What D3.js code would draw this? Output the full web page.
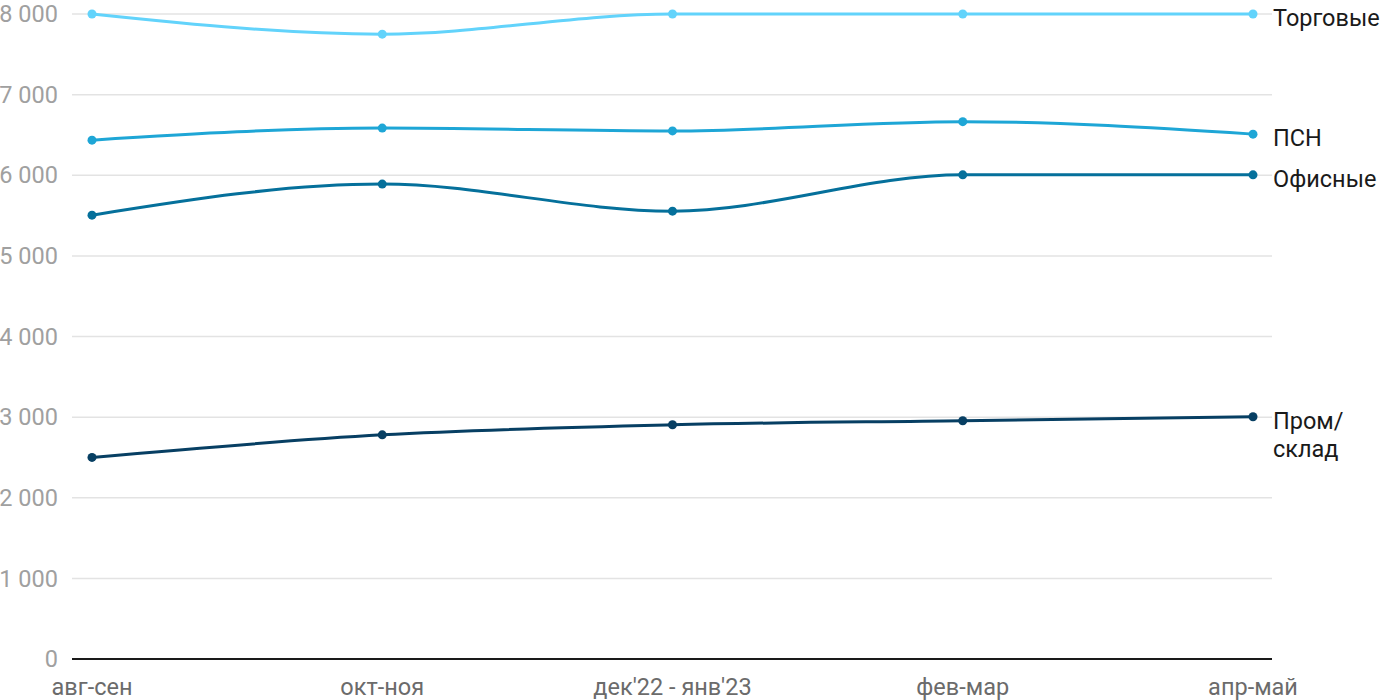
<!DOCTYPE html>
<html><head><meta charset="utf-8">
<script src="https://cdn.jsdelivr.net/npm/d3@7"></script>
<style>
body{margin:0;background:#fff;}
text{font-family:Roboto, "Noto Sans", sans-serif;}
</style></head>
<body><svg id="c" width="1400" height="700"></svg>
<script>
const categories = ["авг-сен","окт-ноя","дек'22 - янв'23","фев-мар","апр-май"];
const seriesNames = ["Торговые","ПСН","Офисные","Пром/склад"];
const labelLines = [["Торговые"],["ПСН"],["Офисные"],["Пром/","склад"]];
const torgovye = [8000, 7750, 8000, 8000, 8000];
const psn = [6435, 6585, 6550, 6665, 6510];
const ofisnye = [5505, 5890, 5555, 6005, 6005];
const prom = [2500, 2780, 2905, 2955, 3005];
const colors = ["#62d3fb","#1ea6d6","#05709b","#073f63"];
const yTicks = [0,1000,2000,3000,4000,5000,6000,7000,8000];

const values = [torgovye, psn, ofisnye, prom];
const svg = d3.select("#c");
const x = d3.scalePoint().domain(categories).range([92,1253]);
const y = d3.scaleLinear().domain([0,8000]).range([659,14]);
const left = 72, right = 1272;
const fs = 23.5;
const fmt = v => d3.format(",")(v).replace(/,/g," ");

// gridlines
svg.append("g").selectAll("line").data(yTicks.filter(t=>t>0)).join("line")
  .attr("x1",left).attr("x2",right).attr("y1",d=>y(d)).attr("y2",d=>y(d))
  .attr("stroke","#e3e3e3").attr("stroke-width",1.5);
// y labels
svg.append("g").selectAll("text").data(yTicks).join("text")
  .attr("x",58).attr("y",d=>y(d)).attr("dy","0.35em").attr("text-anchor","end")
  .attr("font-size",fs).attr("fill","#a0a0a0").text(fmt);
// baseline
svg.append("line").attr("x1",left).attr("x2",right).attr("y1",y(0)).attr("y2",y(0))
  .attr("stroke","#1a1a1a").attr("stroke-width",2);
// x labels
svg.append("g").selectAll("text").data(categories).join("text")
  .attr("x",d=>x(d)).attr("y",695).attr("text-anchor","middle")
  .attr("font-size",fs).attr("fill","#6b6b6b").text(d=>d);

const line = d3.line().x((d,i)=>x(categories[i])).y(d=>y(d)).curve(d3.curveMonotoneX);
values.forEach((vals,si)=>{
  const g = svg.append("g");
  g.append("path").attr("d",line(vals)).attr("fill","none")
    .attr("stroke",colors[si]).attr("stroke-width",3);
  g.selectAll("circle").data(vals).join("circle")
    .attr("cx",(d,i)=>x(categories[i])).attr("cy",d=>y(d)).attr("r",4.5)
    .attr("fill",colors[si]);
  const last = vals[vals.length-1];
  const t = g.append("text").attr("x",1273).attr("y",y(last)+4)
    .attr("font-size",fs).attr("fill","#1a1a1a");
  labelLines[si].forEach((ln,li)=>{
    t.append("tspan").attr("x",1273).attr("dy",li===0?"0.35em":"1.2em").text(ln);
  });
});
</script></body></html>
